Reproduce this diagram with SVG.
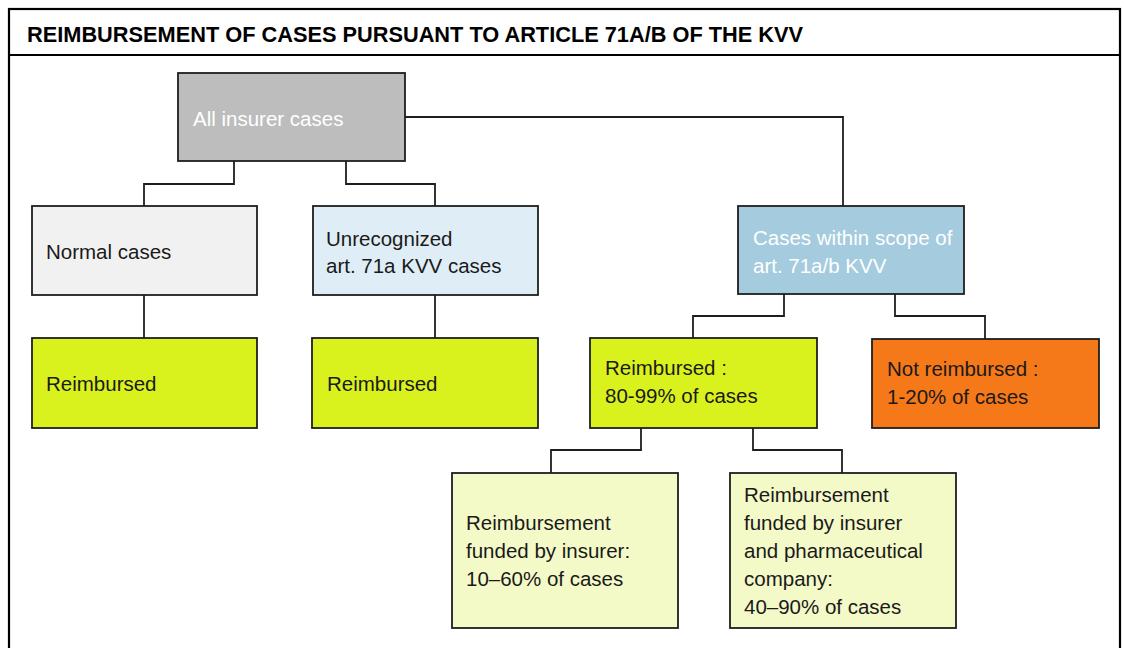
<svg xmlns="http://www.w3.org/2000/svg" width="1124" height="648" viewBox="0 0 1124 648">
<style>
.box{stroke:#1e1e1e;stroke-width:1.8}
.t{font-family:"Liberation Sans",Arial,sans-serif;font-size:20.5px;fill:#1a1a1a}
.w{fill:#ffffff}
.conn{fill:none;stroke:#1e1e1e;stroke-width:1.8}
</style>
<rect x="0" y="0" width="1124" height="648" fill="#ffffff"/>
<g id="frame">
<rect x="9" y="9" width="1111" height="660" fill="none" stroke="#000" stroke-width="2.2"/>
<line x1="9" y1="55" x2="1120" y2="55" stroke="#000" stroke-width="2.2"/>
<text x="27" y="42" font-family="Liberation Sans,Arial,sans-serif" font-weight="bold" font-size="22.5" fill="#000" textLength="776" lengthAdjust="spacingAndGlyphs">REIMBURSEMENT OF CASES PURSUANT TO ARTICLE 71A/B OF THE KVV</text>
</g>
<g id="connectors">
<path class="conn" d="M234 161V184H144V206"/>
<path class="conn" d="M346 161V184H435V206"/>
<path class="conn" d="M405 117H843V206"/>
<path class="conn" d="M144 295V338"/>
<path class="conn" d="M435 295V338"/>
<path class="conn" d="M784 294V316H693V338"/>
<path class="conn" d="M895 294V316H985V339"/>
<path class="conn" d="M641 428V450H551V473"/>
<path class="conn" d="M753 428V450H842V473"/>
</g>
<g id="root">
<rect class="box" x="178" y="73" width="227" height="88" fill="#bdbdbd"/>
<text class="t w" x="193" y="126">All insurer cases</text>
</g>
<g id="normal">
<rect class="box" x="32" y="206" width="225" height="89" fill="#f1f1f1"/>
<text class="t" x="46" y="259">Normal cases</text>
</g>
<g id="unrecognized">
<rect class="box" x="313" y="206" width="225" height="89" fill="#dfeef6"/>
<text class="t" x="326" y="246">Unrecognized</text>
<text class="t" x="326" y="273">art. 71a KVV cases</text>
</g>
<g id="scope">
<rect class="box" x="738" y="206" width="226" height="88" fill="#a5cbde"/>
<text class="t w" x="753" y="245">Cases within scope of</text>
<text class="t w" x="753" y="273">art. 71a/b KVV</text>
</g>
<g id="reimbursed1">
<rect class="box" x="32" y="338" width="225" height="90" fill="#d9f21e"/>
<text class="t" x="46" y="391">Reimbursed</text>
</g>
<g id="reimbursed2">
<rect class="box" x="312" y="338" width="226" height="90" fill="#d9f21e"/>
<text class="t" x="327" y="391">Reimbursed</text>
</g>
<g id="reimbursed3">
<rect class="box" x="590" y="338" width="227" height="90" fill="#d9f21e"/>
<text class="t" x="605" y="375">Reimbursed :</text>
<text class="t" x="605" y="403">80-99% of cases</text>
</g>
<g id="notreimbursed">
<rect class="box" x="872" y="339" width="227" height="89" fill="#f57819"/>
<text class="t" x="887" y="376">Not reimbursed :</text>
<text class="t" x="887" y="404">1-20% of cases</text>
</g>
<g id="insurer">
<rect class="box" x="452" y="473" width="226" height="155" fill="#f4f9c8"/>
<text class="t" x="466" y="530">Reimbursement</text>
<text class="t" x="466" y="558">funded by insurer:</text>
<text class="t" x="466" y="586">10–60% of cases</text>
</g>
<g id="pharma">
<rect class="box" x="730" y="473" width="226" height="155" fill="#f4f9c8"/>
<text class="t" x="744" y="502">Reimbursement</text>
<text class="t" x="744" y="530">funded by insurer</text>
<text class="t" x="744" y="558">and pharmaceutical</text>
<text class="t" x="744" y="586">company:</text>
<text class="t" x="744" y="614">40–90% of cases</text>
</g>
</svg>
